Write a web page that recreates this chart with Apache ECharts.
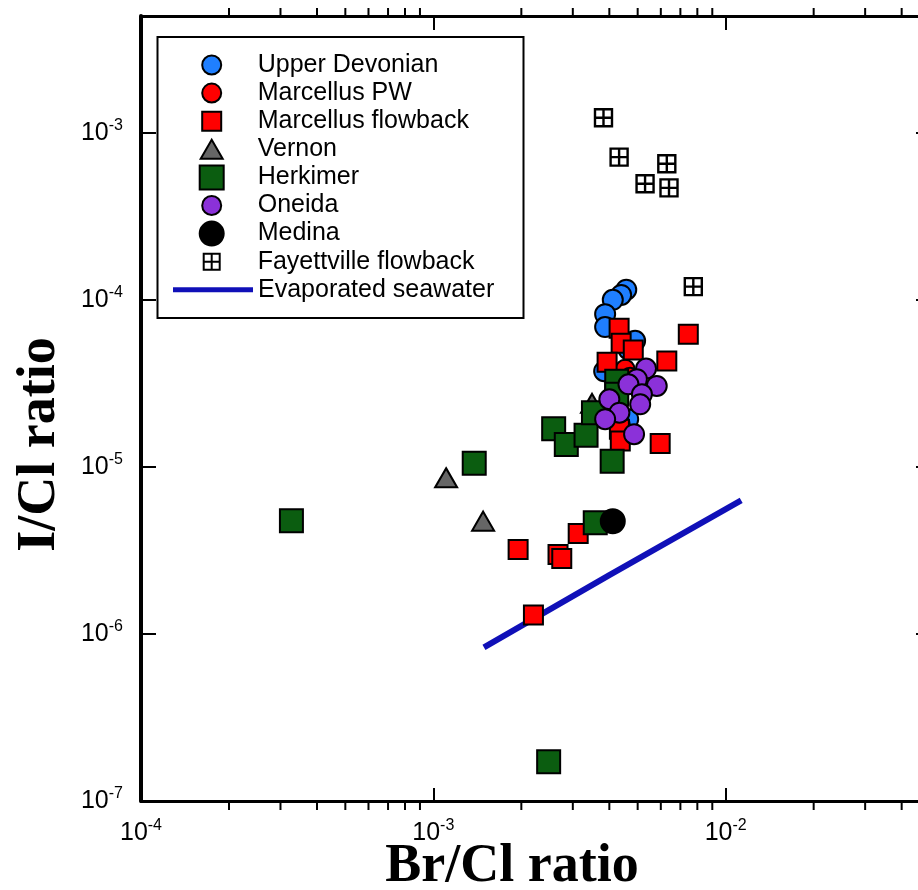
<!DOCTYPE html>
<html><head><meta charset="utf-8">
<script src="https://cdn.jsdelivr.net/npm/echarts@6/dist/echarts.min.js"></script>
<style>html,body{margin:0;padding:0;background:#fff}#c{width:918px;height:890px}</style>
</head><body><div id="c"></div>
<script>
// ---- data (Br/Cl, I/Cl) ----
const upperDevonian = [[4.57e-3,1.15e-4],[4.39e-3,1.07e-4],[4.11e-3,1.0e-4],[3.87e-3,8.21e-5],[3.87e-3,6.87e-5],[4.64e-3,5.07e-5],[4.90e-3,5.68e-5],[3.84e-3,3.74e-5],[4.64e-3,1.93e-5]];
const marcellusPW = [[4.53e-3,3.84e-5],[4.71e-3,3.44e-5],[4.36e-3,1.80e-5]];
const marcellusFlowback = [[4.32e-3,6.77e-5],[4.39e-3,5.50e-5],[4.83e-3,5.00e-5],[3.93e-3,4.23e-5],[7.45e-3,6.23e-5],[6.29e-3,4.31e-5],[4.33e-3,1.68e-5],[4.36e-3,1.43e-5],[5.97e-3,1.38e-5],[3.13e-3,3.99e-6],[1.95e-3,3.20e-6],[2.67e-3,2.99e-6],[2.75e-3,2.83e-6],[2.20e-3,1.30e-6]];
const vernon = [[1.106e-3,8.61e-6],[1.48e-3,4.73e-6],[3.49e-3,2.40e-5]];
const herkimer = [[2.58e-3,1.69e-5],[2.85e-3,1.36e-5],[3.33e-3,1.545e-5],[3.53e-3,2.11e-5],[4.09e-3,1.08e-5],[1.38e-3,1.05e-5],[3.27e-4,4.76e-6],[3.58e-3,4.63e-6],[2.48e-3,1.72e-7],[4.24e-3,3.26e-5],[4.24e-3,2.72e-5]];
const oneida = [[5.34e-3,3.88e-5],[5.81e-3,3.05e-5],[4.97e-3,3.35e-5],[4.65e-3,3.12e-5],[5.17e-3,2.72e-5],[5.10e-3,2.37e-5],[4.00e-3,2.54e-5],[4.33e-3,2.11e-5],[3.87e-3,1.93e-5],[4.86e-3,1.57e-5]];
const medina = [[4.11e-3,4.73e-6]];
const fayettville = [[3.82e-3,1.23e-3],[4.32e-3,7.15e-4],[6.29e-3,6.52e-4],[5.30e-3,4.95e-4],[6.40e-3,4.68e-4],[7.75e-3,1.20e-4]];
const seawater = [[1.49e-3,8.3e-7],[4.0e-3,2.25e-6],[1.13e-2,6.3e-6]];
const minorTicksX = [2e-4,3e-4,4e-4,5e-4,6e-4,7e-4,8e-4,9e-4,2e-3,3e-3,4e-3,5e-3,6e-3,7e-3,8e-3,9e-3,2e-2,3e-2,4e-2];
const xRange = [1e-4, 5e-2];
const yRange = [1e-7, 5e-3];

const FONT = 'Liberation Sans, Arial, sans-serif';
const SERIF = 'Liberation Serif, Times New Roman, serif';
const SQ = 'path://M0,0L10,0L10,10L0,10Z';
const TRI = 'path://M11,0L22,19L0,19Z';
const GRIDSYM = 'path://M0,0H10V10H0Z M5,0V10 M0,5H10';
const BLUE_LINE = '#1010b8';

function powLabel(v){
  const l = Math.log10(v); const e = Math.round(l);
  if (Math.abs(l - e) > 1e-6) return '';
  return '{b|10}{s|' + e + '}';
}
const labelRich = {
  b: {fontSize: 25, fontFamily: FONT, color: '#000', lineHeight: 30},
  s: {fontSize: 16, fontFamily: FONT, color: '#000', verticalAlign: 'top', lineHeight: 16}
};

// w = visible icon width (legend group is positioned by its visible bounds)
const legendRows = [
  {name: 'Upper Devonian', h: 19, w: 19},
  {name: 'Marcellus PW', h: 19, w: 19},
  {name: 'Marcellus flowback', h: 19, w: 19, icon: SQ},
  {name: 'Vernon', h: 19, w: 22, icon: TRI},
  {name: 'Herkimer', h: 24, w: 24, icon: SQ},
  {name: 'Oneida', h: 19, w: 19},
  {name: 'Medina', h: 24, w: 24},
  {name: 'Fayettville flowback', h: 16, w: 16, icon: GRIDSYM},
  {name: 'Evaporated seawater', h: 5, w: 80, line: true}
];
const legends = legendRows.map((r, i) => {
  const y = 65 + i * 28.1;
  const item = {name: r.name};
  if (r.icon) item.icon = r.icon;
  if (r.line) item.icon = 'rect';
  const left = r.line ? 173 : (211.7 - r.w / 2 - 1);
  return {
    data: [item], orient: 'vertical', left: left, top: y - 13,
    itemWidth: r.line ? 80 : 82, itemHeight: r.h, padding: 0, selectedMode: false,
    symbolKeepAspect: true,
    itemStyle: r.line ? {color: BLUE_LINE, borderWidth: 0} : {borderColor: '#000', borderWidth: 2},
    textStyle: {fontSize: 25, fontFamily: FONT, color: '#000', lineHeight: 26}
  };
});

const sc = (name, data, symbol, size, color, bw) => ({
  type: 'scatter', name, data, symbol, symbolSize: size, z: 2,
  itemStyle: {color, borderColor: '#000', borderWidth: bw || 2, opacity: 1},
  emphasis: {disabled: true}
});

const chart = echarts.init(document.getElementById('c'), null, {renderer: 'canvas'});
chart.setOption({
  animation: false,
  backgroundColor: '#fff',
  grid: {left: 141, top: 16, width: 789, height: 785, containLabel: false, outerBoundsMode: 'none'},
  graphic: [{type: 'rect', z: 3, shape: {x: 157.5, y: 37, width: 366, height: 281},
    style: {fill: '#fff', stroke: '#000', lineWidth: 2}}],
  legend: legends,
  xAxis: [
    {type: 'log', min: xRange[0], max: xRange[1], position: 'bottom',
     axisLine: {lineStyle: {color: '#000', width: 3}},
     axisTick: {inside: true, length: 13, lineStyle: {color: '#000', width: 2}},
     splitLine: {show: false},
     axisLabel: {formatter: powLabel, rich: labelRich, margin: 17, showMaxLabel: false},
     name: 'Br/Cl ratio', nameLocation: 'middle', nameGap: 39, nameMoveOverlap: false,
     nameTextStyle: {fontFamily: SERIF, fontWeight: 'bold', fontSize: 54, color: '#000', padding: [0, 47, 0, 0]}},
    {type: 'log', min: xRange[0], max: xRange[1], position: 'top',
     axisLine: {lineStyle: {color: '#000', width: 3}},
     axisTick: {inside: true, length: 14, lineStyle: {color: '#000', width: 2}},
     splitLine: {show: false}, axisLabel: {show: false}}
  ],
  yAxis: [
    {type: 'log', min: yRange[0], max: yRange[1], position: 'left',
     axisLine: {lineStyle: {color: '#000', width: 4}},
     axisTick: {inside: true, length: 15, lineStyle: {color: '#000', width: 2}},
     splitLine: {show: false},
     axisLabel: {formatter: powLabel, rich: labelRich, margin: 18},
     name: 'I/Cl ratio', nameLocation: 'middle', nameGap: 74, nameMoveOverlap: false,
     nameTextStyle: {fontFamily: SERIF, fontWeight: 'bold', fontSize: 54, color: '#000', padding: [0, 72, 0, 0]}},
    {type: 'log', min: yRange[0], max: yRange[1], position: 'right',
     axisLine: {lineStyle: {color: '#000', width: 3}},
     axisTick: {inside: true, length: 14, lineStyle: {color: '#000', width: 2}},
     splitLine: {show: false}, axisLabel: {show: false}}
  ],
  series: [
    {type: 'line', name: 'Evaporated seawater', data: seawater, symbol: 'none', z: 2,
     lineStyle: {color: BLUE_LINE, width: 6}, itemStyle: {color: BLUE_LINE}},
    sc('Upper Devonian', upperDevonian, 'circle', 20, '#1f7fff'),
    sc('Marcellus PW', marcellusPW, 'circle', 19, '#ff0000'),
    sc('Marcellus flowback', marcellusFlowback, 'rect', 19, '#ff0000'),
    sc('Vernon', vernon, 'triangle', [22, 19], '#666666'),
    sc('Herkimer', herkimer, 'rect', 23, '#0b5d10'),
    sc('Oneida', oneida, 'circle', 20, '#8b31d9'),
    sc('Medina', medina, 'circle', 24, '#000000'),
    sc('Fayettville flowback', fayettville, GRIDSYM, 17, '#ffffff', 2.4),
    {type: 'custom', name: 'minorTicks', silent: true, clip: false, z: 5,
     data: minorTicksX.map(v => [v, yRange[0]]),
     renderItem: function (params, api) {
       const x = api.coord([api.value(0), yRange[0]])[0];
       const yb = api.coord([api.value(0), yRange[0]])[1];
       const yt = api.coord([api.value(0), yRange[1]])[1];
       return {type: 'group', children: [
         {type: 'line', shape: {x1: x, y1: yb, x2: x, y2: yb + 9}, style: {stroke: '#000', lineWidth: 2}},
         {type: 'line', shape: {x1: x, y1: yt, x2: x, y2: yt - 8}, style: {stroke: '#000', lineWidth: 2}}
       ]};
     }}
  ]
});
</script></body></html>
